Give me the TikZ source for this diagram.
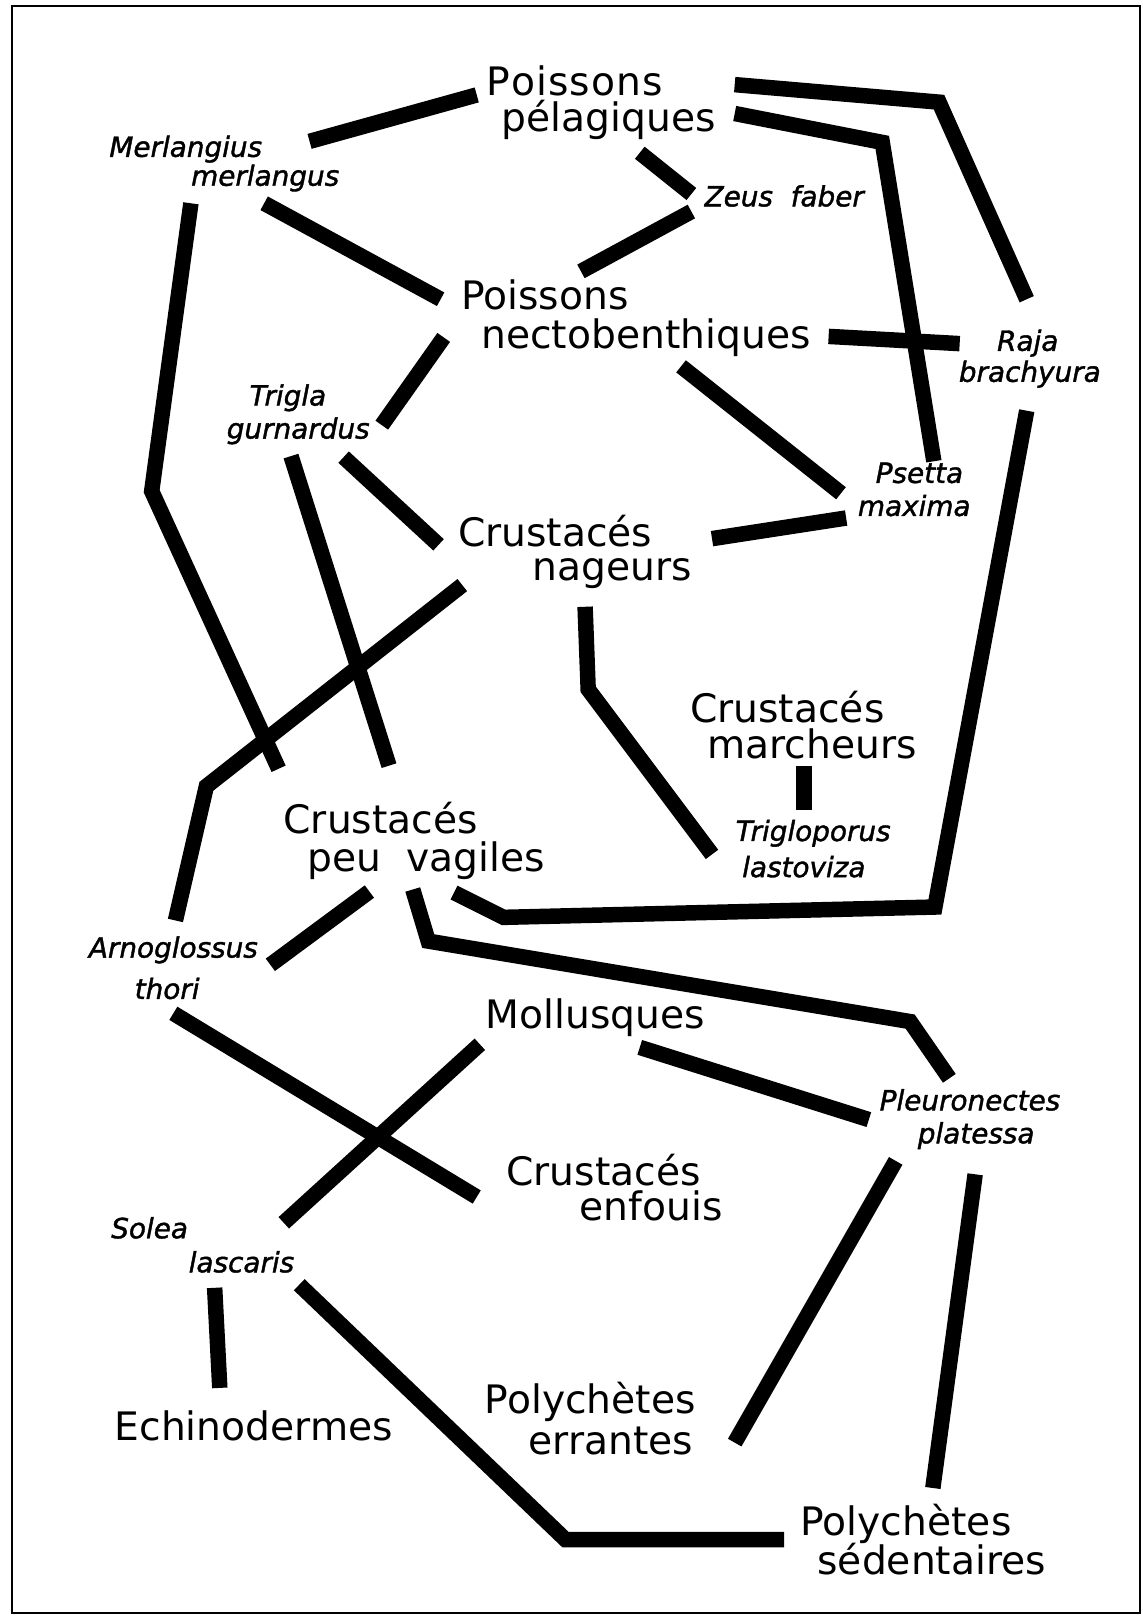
\documentclass[tikz,border=0pt]{standalone}
\usepackage{fontspec}
\setmainfont{DejaVu Sans}
\newfontfamily\spfont{DejaVu Sans}[FakeBold=1.4]
\tikzset{
  band/.style={line width=15pt, line cap=butt, line join=miter},
  big/.style={font=\fontsize{38}{38}\selectfont, anchor=base, inner sep=0pt},
  sp/.style={font=\spfont\fontsize{27}{27}\selectfont\itshape, anchor=base, inner sep=0pt},
}
\begin{document}
\begin{tikzpicture}[x=1pt,y=-1pt]
\useasboundingbox (0,0) rectangle (1107,1568);
\fill[white] (0,0) rectangle (1107,1568);
\draw[line width=2.2pt] (11.5,6) rectangle (1104.5,1563);
% connector end points
\coordinate (a1) at (300,137); \coordinate (a2) at (462,92);
\coordinate (b1) at (256,197); \coordinate (b2) at (427,290);
\coordinate (c1) at (620,148); \coordinate (c2) at (670,188);
\coordinate (d1) at (670,205); \coordinate (d2) at (563,263);
\coordinate (e1) at (712,82); \coordinate (e2) at (910,99); \coordinate (e3) at (995,290);
\coordinate (f1) at (712,110); \coordinate (f2) at (855,138); \coordinate (f3) at (905,447);
\coordinate (g1) at (803,326); \coordinate (g2) at (930,333);
\coordinate (h1) at (430,327); \coordinate (h2) at (370,412);
\coordinate (i1) at (660,355); \coordinate (i2) at (815,478);
\coordinate (j1) at (690,522); \coordinate (j2) at (820,502);
\coordinate (k1) at (333,443); \coordinate (k2) at (425,528);
\coordinate (l1) at (282,442); \coordinate (l2) at (377,742);
\coordinate (m1) at (185,197); \coordinate (m2) at (147,476); \coordinate (m3) at (270,745);
\coordinate (n1) at (448,567); \coordinate (n2) at (200,762); \coordinate (n3) at (170,892);
\coordinate (o1) at (567,588); \coordinate (o2) at (570,668); \coordinate (o3) at (690,828);
\coordinate (p1) at (779,742); \coordinate (p2) at (779,785);
\coordinate (q1) at (995,398); \coordinate (q2) at (906,879); \coordinate (q3) at (488,889); \coordinate (q4) at (440,865);
\coordinate (r1) at (358,864); \coordinate (r2) at (262,935);
\coordinate (s1) at (400,862); \coordinate (s2) at (415,912); \coordinate (s3) at (882,990); \coordinate (s4) at (920,1045);
\coordinate (t1) at (168,982); \coordinate (t2) at (462,1160);
\coordinate (u1) at (465,1012); \coordinate (u2) at (275,1185);
\coordinate (v1) at (620,1015); \coordinate (v2) at (842,1085);
\coordinate (w1) at (868,1125); \coordinate (w2) at (712,1398);
\coordinate (x1) at (945,1138); \coordinate (x2) at (904,1442);
\coordinate (y1) at (208,1248); \coordinate (y2) at (213,1345);
\coordinate (z1) at (290,1245); \coordinate (z2) at (548,1492); \coordinate (z3) at (760,1492);
% connectors
\draw[band] (a1) -- (a2);
\draw[band] (b1) -- (b2);
\draw[band] (c1) -- (c2);
\draw[band] (d1) -- (d2);
\draw[band] (e1) -- (e2) -- (e3);
\draw[band] (f1) -- (f2) -- (f3);
\draw[band] (g1) -- (g2);
\draw[band] (h1) -- (h2);
\draw[band] (i1) -- (i2);
\draw[band] (j1) -- (j2);
\draw[band] (k1) -- (k2);
\draw[band] (l1) -- (l2);
\draw[band] (m1) -- (m2) -- (m3);
\draw[band] (n1) -- (n2) -- (n3);
\draw[band] (o1) -- (o2) -- (o3);
\draw[band] (p1) -- (p2);
\draw[band] (q1) -- (q2) -- (q3) -- (q4);
\draw[band] (r1) -- (r2);
\draw[band] (s1) -- (s2) -- (s3) -- (s4);
\draw[band] (t1) -- (t2);
\draw[band] (u1) -- (u2);
\draw[band] (v1) -- (v2);
\draw[band] (w1) -- (w2);
\draw[band] (x1) -- (x2);
\draw[band] (y1) -- (y2);
\draw[band] (z1) -- (z2) -- (z3);
% labels
\node[big] (pp1) at (557,93) {P\kern1pt o\kern1pt i\kern1pt s\kern1pt s\kern1pt o\kern1pt n\kern1pt s};
\node[big] (pp2) at (590,127) {pélagiques};
\node[sp] (merl1) at (180,152) {Merlangius};
\node[sp] (merl2) at (257,180) {merlangus};
\node[sp] (zeus) at (760,200) {Zeus\ \ faber};
\node[big] (pn1) at (528,300) {Poissons};
\node[big] (pn2) at (626,338) {nectobenthiques};
\node[sp] (raja1) at (996,340) {Raja};
\node[sp] (raja2) at (998,370) {brachyura};
\node[sp] (trig1) at (279,393) {Trigla};
\node[sp] (trig2) at (289,425) {gurnardus};
\node[sp] (pset1) at (891,468) {Psetta};
\node[sp] (pset2) at (886,500) {maxima};
\node[big] (cn1) at (538,530) {Crustacés};
\node[big] (cn2) at (593,563) {nageurs};
\node[big] (cm1) at (763,700) {Crustacés};
\node[big] (cm2) at (787,735) {marcheurs};
\node[sp] (tl1) at (788,815) {Trigloporus};
\node[sp] (tl2) at (779,850) {lastoviza};
\node[big] (cpv1) at (369,808) {Crustacés};
\node[big] (cpv2) at (413,845) {peu\ \ vagiles};
\node[sp] (arn1) at (168,928) {Arnoglossus};
\node[sp] (arn2) at (162,968) {thori};
\node[big] (moll) at (577,997) {Mollusques};
\node[sp] (pleu1) at (940,1076) {Pleuronectes};
\node[sp] (pleu2) at (946,1108) {platessa};
\node[big] (ce1) at (585,1149) {Crustacés};
\node[big] (ce2) at (631,1183) {enfouis};
\node[sp] (sol1) at (145,1200) {Solea};
\node[sp] (sol2) at (234,1233) {lascaris};
\node[big] (pe1) at (572,1370) {Polychètes};
\node[big] (pe2) at (592,1410) {errantes};
\node[big] (echi) at (246,1396) {Echinodermes};
\node[big] (ps1) at (878,1488) {Polychètes};
\node[big] (ps2) at (903,1526) {sédentaires};
\end{tikzpicture}
\end{document}
